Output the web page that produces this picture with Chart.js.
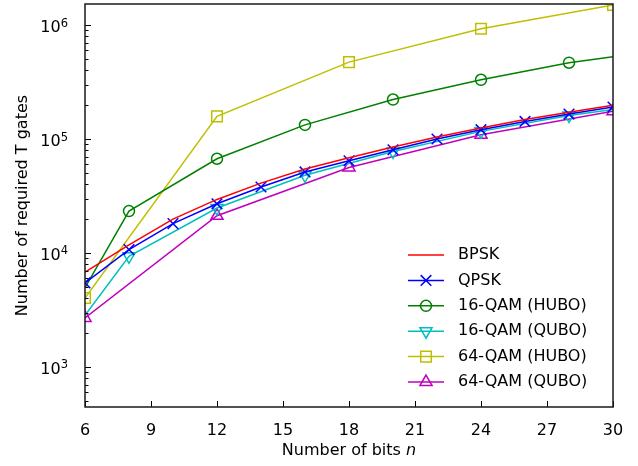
<!DOCTYPE html>
<html>
<head>
<meta charset="utf-8">
<script src="https://cdn.jsdelivr.net/npm/chart.js@4/dist/chart.umd.min.js"></script>
<style>
  html, body { margin: 0; padding: 0; background: #fff; }
</style>
</head>
<body>
<canvas id="c" width="638" height="466"></canvas>
<script>
// data
const bitsEven = [6, 8, 10, 12, 14, 16, 18, 20, 22, 24, 26, 28, 30];
const bpsk = [6800, 11800, 19800, 29500, 41000, 54500, 68500, 85000, 104000, 125000, 148000, 172000, 198000];
const qpsk = [5460, 10700, 18100, 27000, 37900, 51400, 64500, 80500, 100000, 120800, 142600, 165600, 191000];

const bits16 = [6, 8, 12, 16, 20, 24, 28, 30];
const qam16Hubo = [4960, 23300, 67100, 133000, 222000, 331000, 467000, 527000];
const qam16Qubo = [2840, 9340, 24800, 48000, 77800, 116700, 161000, 182000];

const bits64 = [6, 12, 18, 24, 30];
const qam64Hubo = [4030, 158000, 473000, 929000, 1500000];
const qam64Qubo = [2690, 21200, 56300, 109000, 175000];

const xTicks = [6, 9, 12, 15, 18, 21, 24, 27, 30];
const yTicks = [1e3, 1e4, 1e5, 1e6];

const FONT = "'DejaVu Sans', sans-serif";

function pts(xs, ys) { return xs.map((x, i) => ({ x: x, y: ys[i] })); }
// 16-QAM: no marker at the two ends
const r16 = bits16.map((b, i) => (i === 0 || i === bits16.length - 1) ? 0 : 5.5);

function series(label, xs, ys, color, style, radius, rotation) {
  return {
    label: label,
    data: pts(xs, ys),
    borderColor: color,
    backgroundColor: 'rgba(0,0,0,0)',
    borderWidth: 1.5,
    pointStyle: style,
    pointRadius: radius,
    pointHoverRadius: radius,
    pointBorderColor: color,
    pointBackgroundColor: 'rgba(0,0,0,0)',
    pointBorderWidth: 1.5,
    pointRotation: rotation || 0,
    tension: 0,
    clip: 0
  };
}

const datasets = [
  series('BPSK', bitsEven, bpsk, '#ff0000', 'circle', 0),
  series('QPSK', bitsEven, qpsk, '#0000ff', 'crossRot', 7.5),
  series('16-QAM (HUBO)', bits16, qam16Hubo, '#008000', 'circle', r16),
  series('16-QAM (QUBO)', bits16, qam16Qubo, '#00bfbf', 'triangle', r16.map(r => r ? 7 : 0), 180),
  series('64-QAM (HUBO)', bits64, qam64Hubo, '#bfbf00', 'rect', 7.5),
  series('64-QAM (QUBO)', bits64, qam64Qubo, '#bf00bf', 'triangle', 7)
];
const legendRadius = [0, 7.5, 5.5, 7, 7.5, 7];

// frame, inward ticks, y labels with exponents, axis titles, legend
const decorations = {
  id: 'decorations',
  afterDraw(chart) {
    const { ctx, chartArea: a, scales: { x, y } } = chart;
    ctx.save();
    ctx.strokeStyle = '#000';
    ctx.lineWidth = 1;
    ctx.beginPath();
    xTicks.forEach(v => {
      const px = Math.round(x.getPixelForValue(v)) + 0.5;
      ctx.moveTo(px, a.bottom);
      ctx.lineTo(px, a.bottom - 6);
    });
    for (let e = 2; e <= 6; e++) {
      for (let m = 1; m < 10; m++) {
        const v = m * Math.pow(10, e);
        if (v < y.min || v > y.max) continue;
        const py = Math.round(y.getPixelForValue(v)) + 0.5;
        ctx.moveTo(a.left, py);
        ctx.lineTo(a.left + (m === 1 ? 6 : 3.5), py);
      }
    }
    ctx.stroke();

    ctx.strokeStyle = '#1a1a1a';
    ctx.lineWidth = 1.5;
    ctx.strokeRect(a.left, a.top, a.width, a.height);

    // y tick labels: 10 with a raised exponent
    ctx.fillStyle = '#000';
    ctx.textBaseline = 'alphabetic';
    yTicks.forEach(v => {
      const py = y.getPixelForValue(v);
      const exp = String(Math.round(Math.log10(v)));
      ctx.font = '11.5px ' + FONT;
      const we = ctx.measureText(exp).width;
      ctx.textAlign = 'right';
      ctx.fillText(exp, a.left - 17, py + 1.5);
      ctx.font = '16px ' + FONT;
      ctx.fillText('10', a.left - 17 - we, py + 7);
    });

    // axis titles
    ctx.textBaseline = 'middle';
    const t1 = 'Number of bits ';
    ctx.font = '16px ' + FONT;
    const w1 = ctx.measureText(t1).width;
    ctx.font = 'italic 16px ' + FONT;
    const w2 = ctx.measureText('n').width;
    const cx = (a.left + a.right) / 2;
    const sx = cx - (w1 + w2) / 2;
    ctx.textAlign = 'left';
    ctx.font = '16px ' + FONT;
    ctx.fillText(t1, sx, 451);
    ctx.font = 'italic 16px ' + FONT;
    ctx.fillText('n', sx + w1, 451);

    ctx.save();
    ctx.translate(23, (a.top + a.bottom) / 2);
    ctx.rotate(-Math.PI / 2);
    ctx.textAlign = 'center';
    ctx.font = '16px ' + FONT;
    ctx.fillText('Number of required T gates', 0, 0);
    ctx.restore();

    // legend
    const lx0 = a.right - 205, lx1 = a.right - 169, tx = a.right - 155;
    const ly0 = a.bottom - 152, step = 25.4;
    chart.data.datasets.forEach((ds, i) => {
      const ly = ly0 + i * step;
      ctx.strokeStyle = ds.borderColor;
      ctx.lineWidth = 1.5;
      ctx.beginPath();
      ctx.moveTo(lx0, ly);
      ctx.lineTo(lx1, ly);
      ctx.stroke();
      if (legendRadius[i] > 0) {
        ctx.fillStyle = 'rgba(0,0,0,0)';
        Chart.helpers.drawPoint(ctx, {
          pointStyle: ds.pointStyle,
          radius: legendRadius[i],
          rotation: ds.pointRotation,
          borderWidth: 1.5
        }, (lx0 + lx1) / 2, ly);
      }
      ctx.fillStyle = '#000';
      ctx.textAlign = 'left';
      ctx.font = '16px ' + FONT;
      ctx.fillText(ds.label, tx, ly);
    });
    ctx.restore();
  }
};

new Chart(document.getElementById('c'), {
  type: 'line',
  data: { datasets: datasets },
  plugins: [decorations],
  options: {
    responsive: false,
    animation: false,
    events: [],
    layout: { autoPadding: false, padding: { left: 0, top: 4, right: 25, bottom: 0 } },
    plugins: { legend: { display: false }, tooltip: { enabled: false } },
    scales: {
      x: {
        type: 'linear',
        min: 6,
        max: 30,
        grid: { display: false, drawTicks: false },
        border: { display: false },
        afterBuildTicks: s => { s.ticks = xTicks.map(v => ({ value: v })); },
        afterFit: s => { s.height = 59; s.paddingLeft = 0; s.paddingRight = 0; },
        ticks: { color: '#000', font: { family: FONT, size: 16 }, padding: 14, maxRotation: 0, autoSkip: false }
      },
      y: {
        type: 'logarithmic',
        min: 445,
        max: 1530000,
        grid: { display: false, drawTicks: false },
        border: { display: false },
        afterBuildTicks: s => { s.ticks = yTicks.map(v => ({ value: v })); },
        afterFit: s => { s.width = 85; s.paddingTop = 0; s.paddingBottom = 0; },
        ticks: { display: false }
      }
    }
  }
});
</script>
</body>
</html>
